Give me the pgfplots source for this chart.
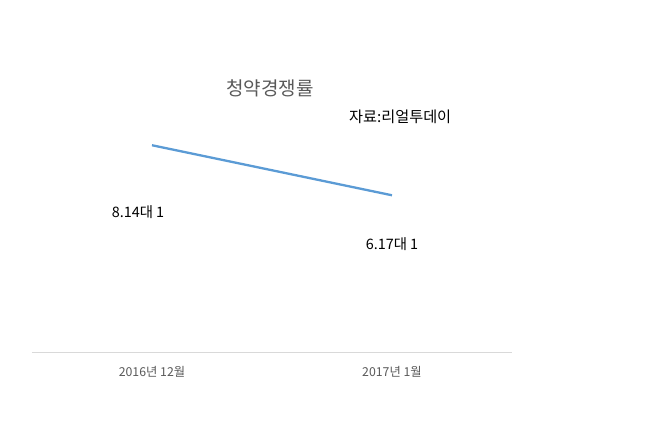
\documentclass[border=0pt]{standalone}
\usepackage{fontspec}
\usepackage{pgfplots}
\pgfplotsset{compat=1.18}
\newfontfamily\kr{Noto Sans CJK KR}
\definecolor{lineblue}{HTML}{5B9BD5}
\definecolor{txtgray}{HTML}{595959}
\definecolor{axgray}{HTML}{D9D9D9}
\begin{document}
\begin{tikzpicture}
  \path[use as bounding box] (0,0) rectangle (650pt,423pt);
  \begin{axis}
      [
        at = {(32pt,71pt)},
        anchor = south west,
        scale only axis,
        width  = 480pt,
        height = 254pt,
        xmin = -0.5, xmax = 1.5,
        ymin = 0, ymax = 10,
        axis x line = bottom,
        axis y line = none,
        axis line style = {axgray, line width=0.8pt, -},
        xtick = {0,1},
        xticklabels = {2016년 12월, 2017년 1월},
        major tick length = 0pt,
        x tick label style = {font=\kr\fontsize{12.3pt}{14pt}\selectfont, text=txtgray, yshift=-11pt},
        clip = false,
      ]
      % 청약경쟁률 (대 1)
      \addplot[lineblue, line width=2.3pt, mark=none]
      coordinates {(0,8.14) (1,6.17)};
      \node[font=\kr\fontsize{14.4pt}{16pt}\selectfont] at (axis cs:0,8.14) [xshift=-14pt, yshift=-67pt] {8.14대 1};
      \node[font=\kr\fontsize{14.4pt}{16pt}\selectfont] at (axis cs:1,6.17) [yshift=-49pt] {6.17대 1};
      \node[font=\kr\fontsize{19pt}{21pt}\selectfont, text=txtgray] at (rel axis cs:0.496,1.039) {청약경쟁률};
      \node[font=\kr\fontsize{15.2pt}{17pt}\selectfont] at (rel axis cs:0.767,0.925) {자료:리얼투데이};
  \end{axis}
\end{tikzpicture}
\end{document}
